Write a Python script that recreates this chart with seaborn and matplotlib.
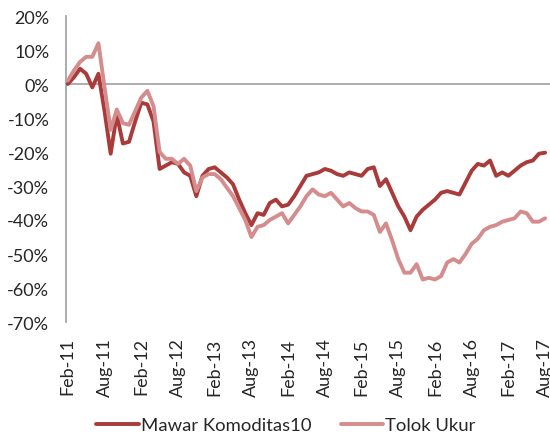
import numpy as np
import pandas as pd
import matplotlib
matplotlib.use("Agg")
import matplotlib.pyplot as plt
import seaborn as sns

# monthly returns (%) Feb-11 .. Aug-17
mawar = [0, 2, 4.5, 3, -1, 3, -8, -20.5, -9, -17.5,
         -17, -11, -5.5, -6, -11, -25, -24, -23, -23.5, -26,
         -27, -33, -27, -25, -24.5, -26, -27.5, -29.5, -34, -38,
         -41.5, -38, -38.5, -35, -34, -36, -35.5, -33, -30, -27,
         -26.5, -26, -25, -25.5, -26.5, -27, -26, -26.5, -27, -25,
         -24.5, -30, -28, -32, -36, -39, -43, -39, -37, -35.5,
         -34, -32, -31.5, -32, -32.5, -29, -25.5, -23.5, -24, -22.5,
         -27, -26, -27, -25.5, -24, -23, -22.5, -20.5, -20.2]
tolok = [1, 4, 6.5, 8, 8, 12, -1, -13.5, -7.5, -11.5,
         -12, -8, -4, -2, -6.5, -20, -22, -22, -23.5, -22,
         -24, -31.5, -27.5, -26.5, -26.5, -28, -30.5, -33, -36.5, -40,
         -45, -42, -41.5, -40, -39, -38, -41, -38.5, -36, -33,
         -31, -32.5, -33, -32, -34, -36, -35, -36.5, -37.5, -37.5,
         -38.5, -43.5, -41, -46, -51.5, -55.5, -55.5, -53, -57.5, -57,
         -57.5, -56.5, -52.5, -51.5, -52.5, -50, -47, -45.5, -43, -42,
         -41.5, -40.5, -40, -39.5, -37.5, -38, -40.5, -40.5, -39.5]
series_names = ["Mawar Komoditas10", "Tolok Ukur"]
tick_labels = ["Feb-11", "Aug-11", "Feb-12", "Aug-12", "Feb-13", "Aug-13", "Feb-14",
               "Aug-14", "Feb-15", "Aug-15", "Feb-16", "Aug-16", "Feb-17", "Aug-17"]
y_ticks = [20, 10, 0, -10, -20, -30, -40, -50, -60, -70]

months = np.arange(len(mawar))
df = pd.DataFrame({
    "month": np.concatenate([months, months]),
    "value": mawar + tolok,
    "series": [series_names[0]] * len(mawar) + [series_names[1]] * len(tolok),
})

sns.set_style("white")
plt.rcParams["font.family"] = ["Lato", "DejaVu Sans"]

fig = plt.figure(figsize=(5.5, 4.35), dpi=100)
ax = fig.add_axes([66 / 550, 1 - 323 / 435, 1 - 66 / 550, (323 - 17) / 435])

gray = "#A6A6A6"
ax.axhline(0, color=gray, lw=1.3, zorder=1)

sns.lineplot(data=df, x="month", y="value", hue="series",
             palette={series_names[0]: "#A93B3B", series_names[1]: "#D58C8C"},
             lw=2.8, ax=ax, legend=True, zorder=3)

ax.set_ylim(-70, 20)
ax.set_xlim(-0.3, 78.8)
ax.set_yticks(y_ticks)
ax.set_yticklabels([f"{v}%" for v in y_ticks], fontsize=13)
ax.set_xticks(np.arange(0, len(mawar), 6))
ax.set_xticklabels(tick_labels, rotation=90, fontsize=13)
ax.tick_params(axis="both", length=0)
ax.tick_params(axis="y", pad=12)
ax.tick_params(axis="x", pad=11)
ax.set_xlabel("")
ax.set_ylabel("")

for s in ["top", "right", "bottom"]:
    ax.spines[s].set_visible(False)
ax.spines["left"].set_color(gray)
ax.spines["left"].set_linewidth(1.3)

handles, labels = ax.get_legend_handles_labels()
ax.legend_.remove()
fig.legend(handles, labels, loc="center", bbox_to_anchor=(286 / 550, 1 - 426 / 435),
           ncol=2, frameon=False, fontsize=13.3, handlelength=2.3,
           handletextpad=0.1, columnspacing=1.6, borderpad=0)

fig.savefig("out.png", dpi=100)
